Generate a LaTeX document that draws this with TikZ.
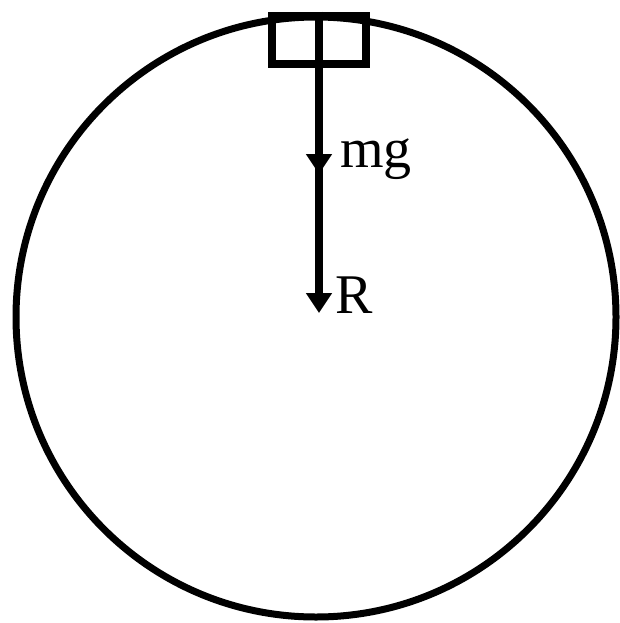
\documentclass[tikz,border=0pt]{standalone}
\usepackage{fontspec}
\setmainfont{Liberation Serif}
\usetikzlibrary{arrows.meta,positioning}

\begin{document}
\begin{tikzpicture}[
    x=1pt, y=-1pt,
    >={Triangle[length=20pt,width=25pt]},
    ring/.style={draw, circle, line width=7pt, minimum size=600pt, inner sep=0pt},
    block/.style={draw, line width=8pt, minimum width=94pt, minimum height=48pt, inner sep=0pt},
    lbl/.style={font=\fontsize{56}{64}\selectfont, inner sep=0pt, anchor=base west},
    arr/.style={->, line width=8pt}
]
    \useasboundingbox (0,0) rectangle (620,623);
    \node[ring] (loop) at (316,317) {};
    \node[block] (mass) at (319,40) {};
    \coordinate (mgtip) at (319,174);
    \coordinate (rtip) at (319,313);

    \draw[arr] (mass.north) -- (rtip);
    \draw[arr] (mass.north) -- (mgtip);
    \node[lbl] (mg) at (340,167) {mg};
    \node[lbl] (R) at (335,313) {R};
\end{tikzpicture}
\end{document}
